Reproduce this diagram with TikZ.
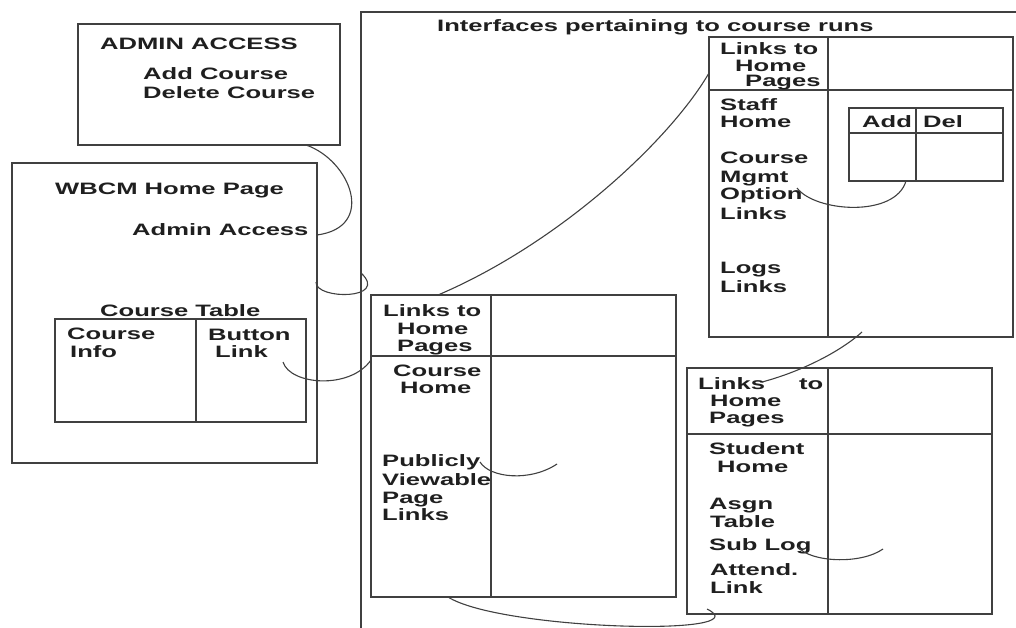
\documentclass[tikz,border=0pt]{standalone}
\usepackage{fontspec}
\setmainfont{Liberation Sans}[FakeStretch=1.55]
\tikzset{
  box/.style={draw=black!75, line width=1.4pt, inner sep=0pt, outer sep=0pt, anchor=north west},
  rule/.style={draw=black!75, line width=1.4pt},
  link/.style={draw=black!75, line width=1.1pt},
  lbl/.style={inner sep=0pt, anchor=base west, font=\bfseries\fontsize{16.5}{18}\selectfont, text=black!88},
}
\begin{document}
\begin{tikzpicture}[x=1pt,y=-1pt]
\useasboundingbox (0,0) rectangle (1016,628);

% ---------- admin access box
\node[box, minimum width=262pt, minimum height=121pt] (admin) at (78,24) {};
\node[lbl] (tadmin) at (100,50) {ADMIN ACCESS};
\node[lbl] (tadd) at (143,80) {Add Course};
\node[lbl] (tdel) at (143,99) {Delete Course};

% ---------- WBCM home page
\node[box, minimum width=305pt, minimum height=300pt] (wbcm) at (12,163) {};
\node[lbl] (twbcm) at (55,195) {WBCM Home Page};
\node[lbl] (tadm) at (132,236) {Admin Access};
\node[lbl] (tctab) at (100,316) {Course Table};
\node[box, minimum width=251pt, minimum height=103pt] (ctable) at (55,319) {};
\draw[rule] ([xshift=141pt]ctable.north west) -- ([xshift=141pt]ctable.south west);
\node[lbl] (tci1) at (67,339) {Course};
\node[lbl] (tci2) at (70,357) {Info};
\node[lbl] (tbl1) at (208,340) {Button};
\node[lbl] (tbl2) at (215,357) {Link};

% ---------- outer frame
\coordinate (outer) at (361,12);
\draw[rule] (361,628) -- (outer) -- (1016,12);
\node[lbl] (title) at (437,32) {Interfaces pertaining to course runs};

% ---------- staff box
\node[box, minimum width=304pt, minimum height=300pt] (staff) at (709,37) {};
\draw[rule] ([yshift=-53pt]staff.north west) -- ([yshift=-53pt]staff.north east);
\draw[rule] ([xshift=119pt]staff.north west) -- ([xshift=119pt]staff.south west);
\node[lbl] (s1) at (720,55) {Links to};
\node[lbl] (s2) at (735,72) {Home};
\node[lbl] (s3) at (745,87) {Pages};
\node[lbl] (s4) at (720,111) {Staff};
\node[lbl] (s5) at (720,128) {Home};
\node[lbl] (s6) at (720,164) {Course};
\node[lbl] (s7) at (720,183) {Mgmt};
\node[lbl] (s8) at (720,200) {Option};
\node[lbl] (s9) at (720,219) {Links};
\node[lbl] (s10) at (720,273) {Logs};
\node[lbl] (s11) at (720,292) {Links};

\node[box, minimum width=154pt, minimum height=73pt] (adddel) at (849,108) {};
\draw[rule] ([yshift=-25pt]adddel.north west) -- ([yshift=-25pt]adddel.north east);
\draw[rule] ([xshift=67pt]adddel.north west) -- ([xshift=67pt]adddel.south west);
\node[lbl] (tadd2) at (862,128) {Add};
\node[lbl] (tdel2) at (923,128) {Del};

% ---------- course home box
\node[box, minimum width=305pt, minimum height=302pt] (mid) at (371,295) {};
\draw[rule] ([yshift=-61pt]mid.north west) -- ([yshift=-61pt]mid.north east);
\draw[rule] ([xshift=120pt]mid.north west) -- ([xshift=120pt]mid.south west);
\node[lbl] (m1) at (383,316) {Links to};
\node[lbl] (m2) at (397,334) {Home};
\node[lbl] (m3) at (397,351) {Pages};
\node[lbl] (m4) at (393,376) {Course};
\node[lbl] (m5) at (400,393) {Home};
\node[lbl] (m6) at (382,466) {Publicly};
\node[lbl] (m7) at (382,485) {Viewable};
\node[lbl] (m8) at (382,503) {Page};
\node[lbl] (m9) at (382,520) {Links};

% ---------- student box
\node[box, minimum width=305pt, minimum height=246pt] (student) at (687,368) {};
\draw[rule] ([yshift=-66pt]student.north west) -- ([yshift=-66pt]student.north east);
\draw[rule] ([xshift=141pt]student.north west) -- ([xshift=141pt]student.south west);
\node[lbl] (u1) at (698,389) {Links};
\node[lbl] (u1b) at (799,389) {to};
\node[lbl] (u2) at (710,406) {Home};
\node[lbl] (u3) at (709,423) {Pages};
\node[lbl] (u4) at (709,454) {Student};
\node[lbl] (u5) at (717,472) {Home};
\node[lbl] (u6) at (709,509) {Asgn};
\node[lbl] (u7) at (710,527) {Table};
\node[lbl] (u8) at (709,550) {Sub Log};
\node[lbl] (u9) at (710,575) {Attend.};
\node[lbl] (u10) at (710,593) {Link};

% ---------- connectors
\draw[link] ([xshift=-34pt]admin.south east) .. controls +(44,15) and +(60,-8) .. ([yshift=-72pt]wbcm.north east);
\draw[link] ([xshift=-1pt,yshift=-119pt]wbcm.north east) .. controls +(-1,18) and +(29,27) .. ([yshift=-261pt]outer);
\draw[link] ([xshift=67pt]mid.north west) .. controls +(122,-52) and +(-39,67) .. ([yshift=-36pt]staff.north west);
\draw[link] ([xshift=-23pt,yshift=-43pt]ctable.north east) .. controls +(7,23) and +(-21,30) .. ([yshift=-65pt]mid.north west);
\draw[link] ([xshift=109pt,yshift=-167pt]mid.north west) .. controls +(10,16) and +(-27,18) .. ([xshift=186pt,yshift=-169pt]mid.north west);
\draw[link] ([xshift=88pt,yshift=-151pt]staff.north west) .. controls +(18,24) and +(-11,37) .. ([xshift=57pt]adddel.south west);
\draw[link] ([xshift=153pt,yshift=5pt]staff.south west) .. controls +(-22,20) and +(38,-10) .. ([xshift=75pt,yshift=-14pt]student.north west);
\draw[link] ([xshift=111pt,yshift=-179pt]student.north west) .. controls +(12,15) and +(-23,16) .. ([xshift=196pt,yshift=-181pt]student.north west);
\draw[link] ([xshift=77pt]mid.south west) .. controls +(52,33) and +(57,28) .. ([xshift=20pt,yshift=5pt]student.south west);
\end{tikzpicture}
\end{document}
